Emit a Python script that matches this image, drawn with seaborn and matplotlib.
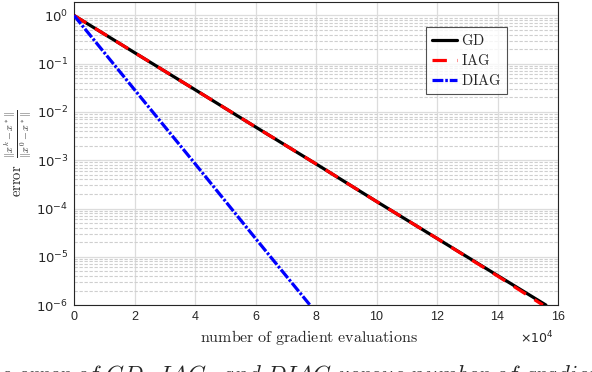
import matplotlib
matplotlib.use("Agg")
import matplotlib.pyplot as plt
import seaborn as sns
import pandas as pd
import numpy as np

# data
gd_x = [0, 20000, 40000, 60000, 80000, 100000, 120000, 140000, 156000]
gd_y = [1.0, 0.17, 2.9e-2, 4.9e-3, 8.4e-4, 1.4e-4, 2.4e-5, 4.1e-6, 1.0e-6]
iag_x = [0, 20000, 40000, 60000, 80000, 100000, 120000, 140000, 155000]
iag_y = [1.0, 0.17, 2.9e-2, 4.9e-3, 8.4e-4, 1.4e-4, 2.4e-5, 4.0e-6, 1.0e-6]
diag_x = [0, 20000, 40000, 60000, 78000]
diag_y = [1.0, 2.9e-2, 8.5e-4, 2.4e-5, 1.0e-6]
xticks = [0, 2, 4, 6, 8, 10, 12, 14, 16]

sns.set_style("white")
plt.rcParams['mathtext.fontset'] = 'cm'
plt.rcParams['font.family'] = ['Liberation Sans', 'DejaVu Sans']

fig = plt.figure(figsize=(5.92, 3.72), dpi=100)
ax = fig.add_axes([0.125, 0.180, 0.8176, 0.8146])

df = pd.concat([
    pd.DataFrame({'x': gd_x, 'y': gd_y, 'm': 'GD'}),
    pd.DataFrame({'x': iag_x, 'y': iag_y, 'm': 'IAG'}),
    pd.DataFrame({'x': diag_x, 'y': diag_y, 'm': 'DIAG'}),
])

sns.lineplot(data=df[df.m == 'GD'], x='x', y='y', color='black', lw=2.3,
             ax=ax, label=r'$\mathrm{GD}$', zorder=3)
sns.lineplot(data=df[df.m == 'IAG'], x='x', y='y', color='#ff0000', lw=2.3,
             ax=ax, label=r'$\mathrm{IAG}$', zorder=4)
ax.lines[-1].set_dashes([4.5, 3.2])
sns.lineplot(data=df[df.m == 'DIAG'], x='x', y='y', color='#0000ff', lw=2.3,
             ax=ax, label=r'$\mathrm{DIAG}$', zorder=4)
ax.lines[-1].set_dashes([3.4, 0.6, 0.8, 0.6])

ax.set_yscale('log')
ax.set_xlim(0, 160000)
ax.set_ylim(1e-6, 1.9)
ax.set_xticks([t * 1e4 for t in xticks])
ax.set_xticklabels([str(t) for t in xticks])
ax.set_yticks([1e-6, 1e-5, 1e-4, 1e-3, 1e-2, 1e-1, 1e0])
ax.set_yticklabels([r'$10^{%d}$' % e for e in range(-6, 1)])
ax.yaxis.set_minor_locator(matplotlib.ticker.LogLocator(base=10, subs=np.arange(2, 10), numticks=20))
ax.yaxis.set_minor_formatter(matplotlib.ticker.NullFormatter())
ax.tick_params(axis='both', which='major', direction='in', length=5, labelsize=9,
               colors='#262626', top=False, right=False, pad=4)
ax.tick_params(axis='y', which='minor', direction='in', length=2.5, colors='#262626')
for lab in ax.get_yticklabels():
    lab.set_math_fontfamily('dejavusans')
    lab.set_fontsize(9.5)

ax.grid(True, which='major', color='#dcdcdc', lw=0.9, ls='-')
ax.grid(True, which='minor', axis='y', color='#cfcfcf', lw=0.8, ls=(0, (3, 1.5)))
ax.set_axisbelow(True)
for s in ax.spines.values():
    s.set_color('#262626')
    s.set_linewidth(0.8)

ax.set_xlabel(r'$\mathrm{number\ of\ gradient\ evaluations}$', fontsize=11.5, labelpad=1, color='#262626')
ax.xaxis.set_label_coords(0.485, -0.075)
ax.set_ylabel(r'$\mathrm{error}\ \ \frac{\|x^k-x^*\|}{\|x^0-x^*\|}$', fontsize=10.5, labelpad=2, color='#262626')
fig.text(0.878, 0.076, r'$\times10^{4}$', fontsize=9, color='#262626', math_fontfamily='dejavusans')

leg = ax.legend(loc='upper left', bbox_to_anchor=(0.728, 0.918), frameon=True, fancybox=False,
                edgecolor='#262626', fontsize=10.5, handlelength=1.7, borderpad=0.4,
                labelspacing=0.35, handletextpad=0.3, borderaxespad=0)
leg.get_frame().set_linewidth(0.8)

fig.text(0.0, -0.022, r'$\mathit{e\ error\ of\ GD,\ IAG,\ and\ DIAG\ versus\ number\ of\ gradient\ evaluations}$',
         fontsize=16.5, va='baseline', ha='left')

fig.savefig('out.png', dpi=100)
